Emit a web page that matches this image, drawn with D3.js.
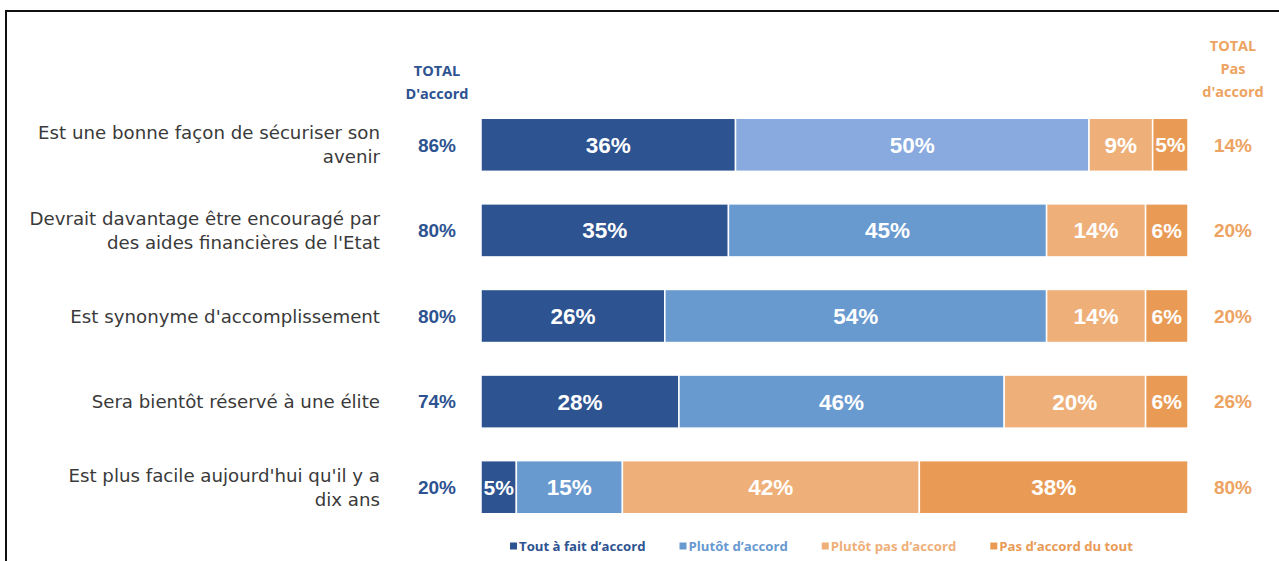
<!DOCTYPE html>
<html>
<head>
<meta charset="utf-8">
<script src="https://cdn.jsdelivr.net/npm/d3@7"></script>
<style>
  body { margin: 0; background: #fff; }
  svg { display: block; }
</style>
</head>
<body>
<div id="chart"></div>
<script>
const items = [
  'Est une bonne façon de sécuriser son\navenir',
  'Devrait davantage être encouragé par\ndes aides financières de l\'Etat',
  'Est synonyme d\'accomplissement',
  'Sera bientôt réservé à une élite',
  'Est plus facile aujourd\'hui qu\'il y a\ndix ans'
]
const series = ['Tout à fait d’accord', 'Plutôt d’accord', 'Plutôt pas d’accord', 'Pas d’accord du tout']
const toutAFait = [36, 35, 26, 28, 5]
const plutot = [50, 45, 54, 46, 15]
const plutotPas = [9, 14, 14, 20, 42]
const pasDuTout = [5, 6, 6, 6, 38]

const colors = ['#2d5391', '#6899cf', '#eeaf79', '#e99b56']
const firstRowLight = '#88aadf'
const blueText = '#2d5391'
const orangeText = '#eda361'

const width = 1279
const height = 561

const svg = d3.select('#chart').append('svg')
  .attr('width', width)
  .attr('height', height)

// frame
svg.append('path')
  .attr('d', `M6,${height} V11 H${width}`)
  .attr('fill', 'none')
  .attr('stroke', '#111')
  .attr('stroke-width', 2)

const x = d3.scaleLinear().domain([0, 100]).range([481, 1188])
const y = d3.scaleBand().domain(d3.range(items.length)).range([102, 530]).paddingInner(0.38).paddingOuter(0.19)

const rows = items.map((label, i) => {
  const vals = [toutAFait[i], plutot[i], plutotPas[i], pasDuTout[i]]
  let acc = 0
  const segs = vals.map((v, k) => {
    const s = { row: i, k: k, v: v, x0: acc, x1: acc + v }
    acc += v
    return s
  })
  return { label, segs, agree: vals[0] + vals[1], disagree: vals[2] + vals[3] }
})

const g = svg.append('g')

const row = g.selectAll('g.row').data(rows).enter().append('g')
  .attr('class', 'row')
  .attr('transform', (d, i) => `translate(0,${y(i)})`)

row.selectAll('rect').data(d => d.segs).enter().append('rect')
  .attr('x', d => x(d.x0))
  .attr('y', 0)
  .attr('width', d => x(d.x1) - x(d.x0))
  .attr('height', y.bandwidth())
  .attr('fill', d => (d.row === 0 && d.k === 1) ? firstRowLight : colors[d.k])
  .attr('stroke', '#fff')
  .attr('stroke-width', 1.5)

row.selectAll('text.val').data(d => d.segs).enter().append('text')
  .attr('class', 'val')
  .attr('x', d => (x(d.x0) + x(d.x1)) / 2)
  .attr('y', y.bandwidth() / 2)
  .attr('dy', '0.36em')
  .attr('text-anchor', 'middle')
  .attr('fill', '#fff')
  .attr('font-family', 'Liberation Sans, Arial, sans-serif')
  .attr('font-weight', 'bold')
  .attr('font-size', d => d.v < 7 ? 21 : 22.5)
  .text(d => d.v + '%')

// item labels
row.append('text')
  .attr('text-anchor', 'end')
  .attr('fill', '#3a3a3a')
  .attr('font-family', 'DejaVu Sans, sans-serif')
  .attr('font-size', 18.2)
  .each(function (d) {
    const lines = d.label.split('\n')
    const t = d3.select(this)
    lines.forEach((ln, j) => {
      t.append('tspan')
        .attr('x', 380)
        .attr('y', y.bandwidth() / 2 + (j - (lines.length - 1) / 2) * 24)
        .attr('dy', '0.36em')
        .text(ln)
    })
  })

// totals
row.append('text')
  .attr('x', 437)
  .attr('y', y.bandwidth() / 2)
  .attr('dy', '0.36em')
  .attr('text-anchor', 'middle')
  .attr('fill', blueText)
  .attr('font-family', 'Liberation Sans, Arial, sans-serif')
  .attr('font-weight', 'bold')
  .attr('font-size', 19)
  .text(d => d.agree + '%')

row.append('text')
  .attr('x', 1233)
  .attr('y', y.bandwidth() / 2)
  .attr('dy', '0.36em')
  .attr('text-anchor', 'middle')
  .attr('fill', orangeText)
  .attr('font-family', 'Liberation Sans, Arial, sans-serif')
  .attr('font-weight', 'bold')
  .attr('font-size', 19)
  .text(d => d.disagree + '%')

// column headers
const headers = [
  { x: 437, lines: ['TOTAL', 'D\'accord'], y0: 71, color: blueText },
  { x: 1233, lines: ['TOTAL', 'Pas', 'd\'accord'], y0: 46, color: orangeText }
]
headers.forEach(h => {
  const t = svg.append('text')
    .attr('text-anchor', 'middle')
    .attr('fill', h.color)
    .attr('font-family', 'Open Sans, sans-serif')
    .attr('font-weight', 'bold')
    .attr('font-size', 14.5)
  h.lines.forEach((ln, j) => {
    t.append('tspan').attr('x', h.x).attr('y', h.y0 + j * 23).attr('dy', '0.36em').text(ln)
  })
})

// legend
const legend = svg.append('g').attr('transform', 'translate(510,546)')
let lx = 0
series.forEach((s, k) => {
  const it = legend.append('g').attr('transform', `translate(${lx},0)`)
  it.append('rect')
    .attr('x', 0).attr('y', -3.5)
    .attr('width', 7).attr('height', 7)
    .attr('fill', colors[k])
  const t = it.append('text')
    .attr('x', 9)
    .attr('dy', '0.36em')
    .attr('fill', colors[k])
    .attr('font-family', 'Open Sans, sans-serif')
    .attr('font-weight', 'bold')
    .attr('font-size', 13.2)
    .text(s)
  lx += 9 + t.node().getComputedTextLength() + 34
})
</script>
</body>
</html>
